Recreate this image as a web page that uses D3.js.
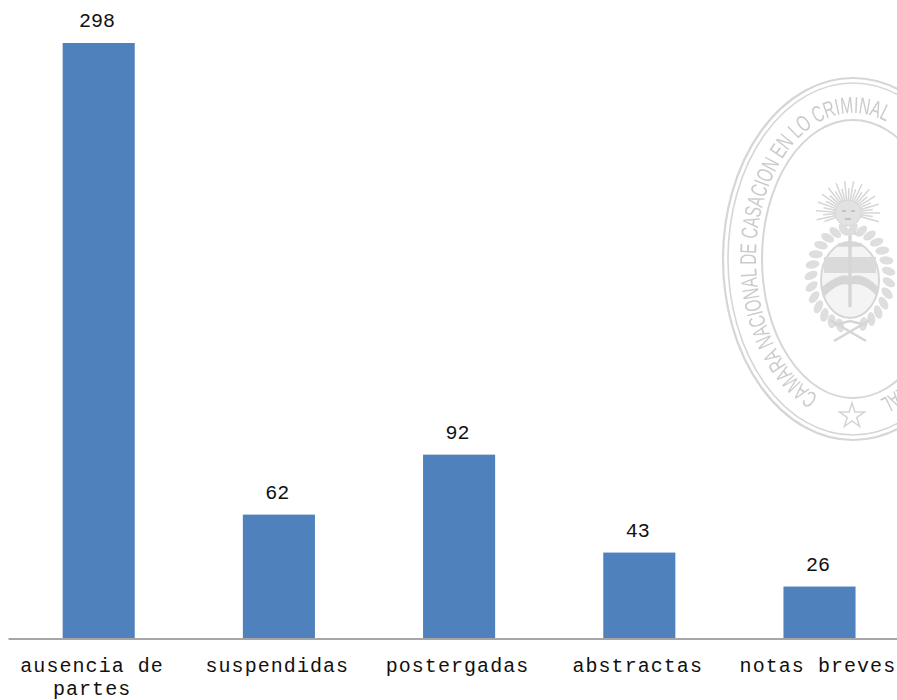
<!DOCTYPE html>
<html><head><meta charset="utf-8">
<script src="https://cdnjs.cloudflare.com/ajax/libs/d3/7.8.5/d3.min.js"></script>
<style>html,body{margin:0;padding:0;background:#fff;overflow:hidden}svg{display:block}</style>
</head><body><div id="chart"></div>
<script>
const categories = ["ausencia de partes","suspendidas","postergadas","abstractas","notas breves"];
const categoryLines = [["ausencia de","partes"],["suspendidas"],["postergadas"],["abstractas"],["notas breves"]];
const values = [298,62,92,43,26];
const sealTextMain = "CAMARA NACIONAL DE CASACION EN LO CRIMINAL";
const sealTextEnd = "RAL";

const W=897,H=700;
const svg=d3.select("#chart").append("svg").attr("width",W).attr("height",H).attr("viewBox",`0 0 ${W} ${H}`);
const defs=svg.append("defs");
defs.append("filter").attr("id","soft").append("feGaussianBlur").attr("stdDeviation",0.6);

// Watermark seal
const cx=853, cy=259, sealColor="#d6d6d6";
const seal=svg.append("g").attr("filter","url(#soft)");
[[130,181,2.2],[125,176,1.6],[91,139,2]].forEach(([rx,ry,w])=>{
  seal.append("ellipse").attr("cx",cx).attr("cy",cy).attr("rx",rx).attr("ry",ry)
    .attr("fill","none").attr("stroke",sealColor).attr("stroke-width",w);
});
const rxT=97, ryT=146;
defs.append("path").attr("id","ringPath").attr("d",
 `M${cx},${cy+ryT} A${rxT},${ryT} 0 1 1 ${cx},${cy-ryT} A${rxT},${ryT} 0 1 1 ${cx},${cy+ryT}`);
const sealFont="'Liberation Sans',sans-serif";
seal.append("text").attr("font-family",sealFont).attr("font-size",23).attr("fill","#cbcbcb")
  .attr("textLength",384).attr("lengthAdjust","spacingAndGlyphs")
  .append("textPath").attr("href","#ringPath").attr("startOffset",36).text(sealTextMain);
seal.append("text").attr("font-family",sealFont).attr("font-size",23).attr("fill","#cbcbcb")
  .attr("textLength",27).attr("lengthAdjust","spacingAndGlyphs")
  .append("textPath").attr("href","#ringPath").attr("startOffset",716).text(sealTextEnd);
seal.append("path").attr("fill","none").attr("stroke",sealColor).attr("stroke-width",1.6)
  .attr("d",d3.symbol().type(d3.symbolStar).size(190)()).attr("transform",`translate(852,416)`);

// crest
const crest=seal.append("g").attr("transform","translate(850,275)");
const crestColor="#d6d6d6";
d3.range(-110,111,8).forEach((a,i)=>{
  const r=a*Math.PI/180, len=i%2?32:25;
  crest.append("line").attr("x1",-2+Math.sin(r)*12).attr("y1",-62-Math.cos(r)*12)
    .attr("x2",-2+Math.sin(r)*len).attr("y2",-62-Math.cos(r)*len)
    .attr("stroke",crestColor).attr("stroke-width",1.5);
});
crest.append("circle").attr("cx",-2).attr("cy",-62).attr("r",13).attr("fill","#e2e2e2").attr("stroke",crestColor);
crest.append("path").attr("d","M-8,-64 h4 M1,-64 h4 M-5,-56 h6").attr("stroke","#c4c4c4").attr("stroke-width",2);
// shield
crest.append("ellipse").attr("cy",5).attr("rx",29).attr("ry",38).attr("fill","#f4f4f4").attr("stroke",crestColor).attr("stroke-width",2);
crest.append("rect").attr("x",-26).attr("y",-18).attr("width",52).attr("height",16).attr("fill","#dadada");
crest.append("path").attr("d","M-28,12 Q-8,-4 0,2 Q12,-4 28,12 L26,20 Q12,6 0,10 Q-12,6 -26,22 Z").attr("fill","#d6d6d6");
crest.append("path").attr("d","M0,-44 L0,32 M-12,-30 L12,-30 M-6,-42 L6,-42").attr("stroke",crestColor).attr("stroke-width",3.5).attr("fill","none");
// wreath
d3.range(-165,166,13).forEach(a=>{
  const r=a*Math.PI/180;
  crest.append("ellipse").attr("rx",4).attr("ry",7)
    .attr("transform",`translate(${Math.sin(r)*39},${3-Math.cos(r)*49}) rotate(${a+(a>0?28:-28)})`)
    .attr("fill","#dedede").attr("stroke","none");
});
crest.append("path").attr("d","M-16,50 L0,46 L16,50 M-20,45 L16,66 M20,45 L-16,66").attr("stroke",crestColor).attr("stroke-width",2.6).attr("fill","none");

// Scales
const x=d3.scaleBand().domain(categories).range([8,909]).paddingInner(0.6).paddingOuter(0.3);
const y=d3.scaleLinear().domain([0,298]).range([638.5,43]);

svg.selectAll("rect.bar").data(values).join("rect").attr("class","bar")
  .attr("x",(d,i)=>x(categories[i])+0.6).attr("width",x.bandwidth())
  .attr("y",d=>y(d)).attr("height",d=>y(0)-y(d)).attr("fill","#4f81bd");

// Axis
const axis=svg.append("g").attr("transform",`translate(0,${y(0)})`)
  .call(d3.axisBottom(x).tickSize(0).tickSizeOuter(0).tickFormat(""));
axis.select(".domain").attr("stroke","#a6a6a6").attr("stroke-width",2);
const font="'Liberation Mono','DejaVu Sans Mono',monospace";
axis.selectAll(".tick text").each(function(d){
  const i=categories.indexOf(d);
  const t=d3.select(this).attr("y",0).attr("dy",0).attr("text-anchor","middle")
    .attr("font-family",font).attr("font-size",20).attr("letter-spacing",1.05).attr("fill","#111");
  t.text(null);
  categoryLines[i].forEach((s,k)=>t.append("tspan").attr("x",categoryLines[i].length>1?-6:-1).attr("y",33.5+k*22.5).text(s));
});

// Value labels
svg.selectAll("text.val").data(values).join("text").attr("class","val")
  .attr("x",(d,i)=>x(categories[i])+x.bandwidth()/2-1).attr("y",d=>y(d)-16)
  .attr("text-anchor","middle").attr("font-family",font).attr("font-size",20).attr("fill","#111")
  .text(d=>d);
</script></body></html>
